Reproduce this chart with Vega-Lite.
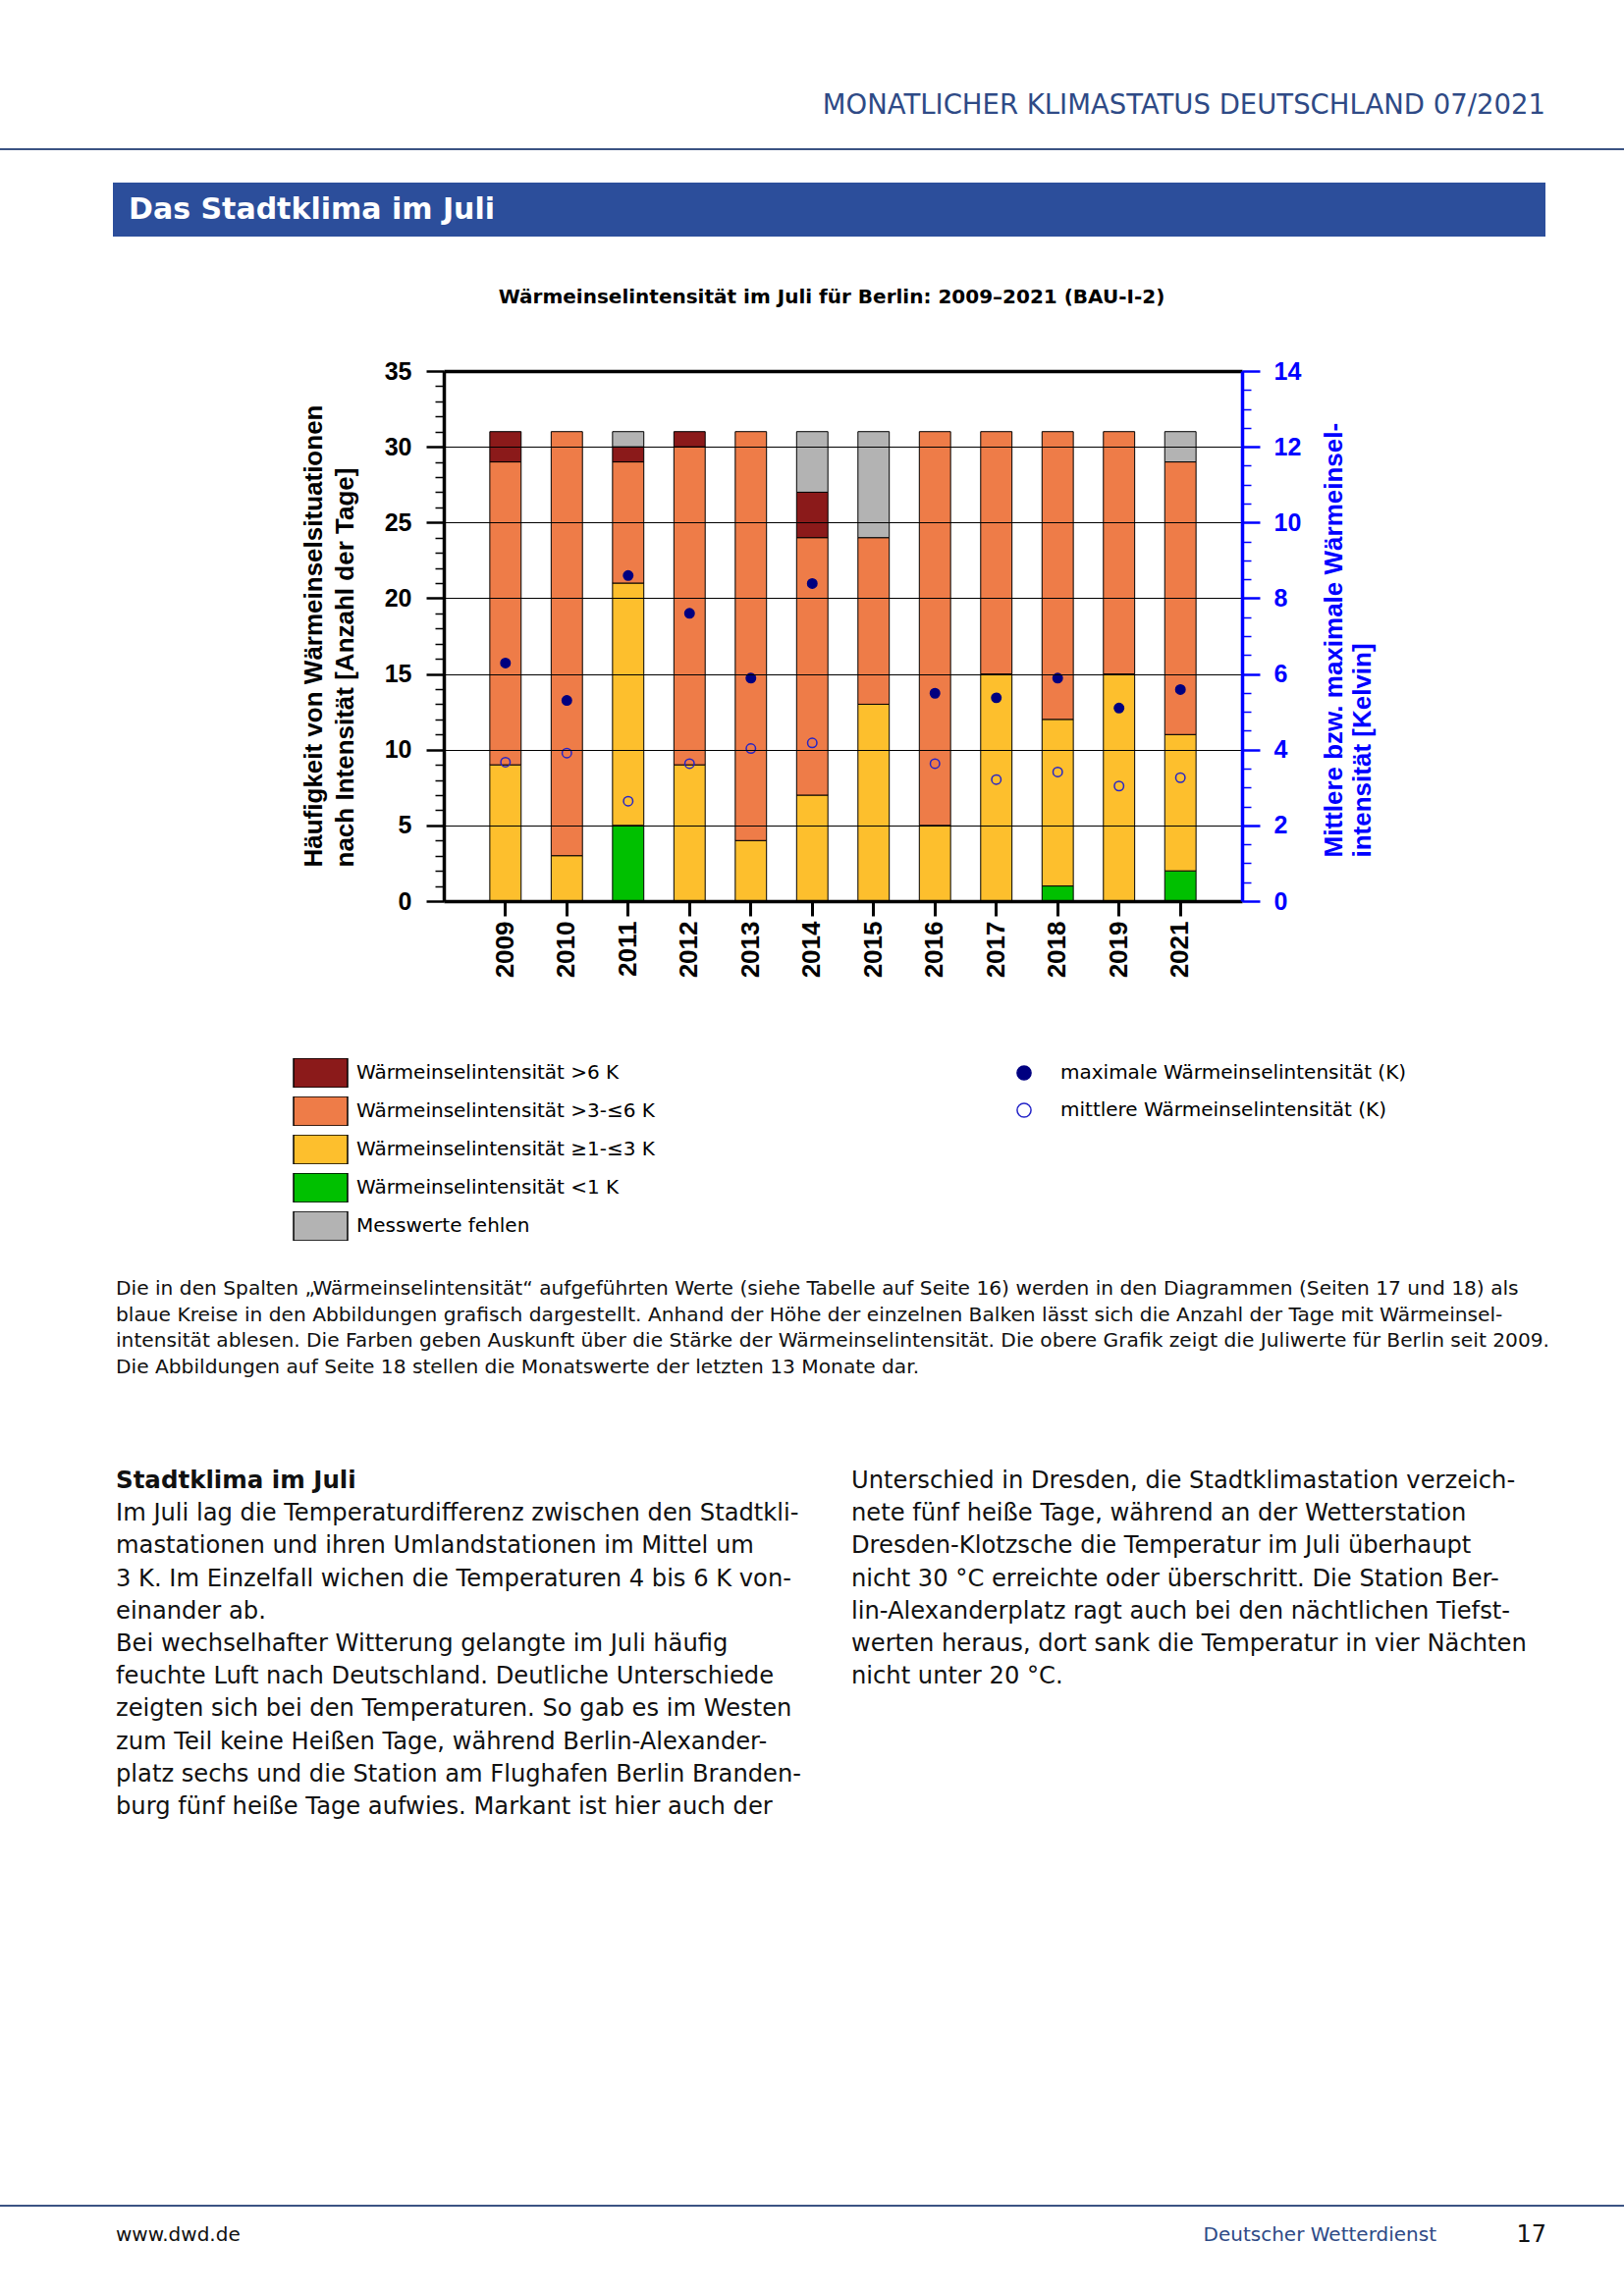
{
  "$schema": "https://vega.github.io/schema/vega-lite/v6.json",
  "padding": 0,
  "background": "#ffffff",
  "spacing": 0,
  "bounds": "flush",
  "config": {"view": {"stroke": null}, "concat": {"spacing": 0}, "font": "DejaVu Sans"},
  "datasets": {
    "bars": [
      {"Jahr": "2009", "Klasse": "Wärmeinselintensität ≥1-≤3 K", "Stufe": 2, "Tage": 9},
      {"Jahr": "2009", "Klasse": "Wärmeinselintensität >3-≤6 K", "Stufe": 3, "Tage": 20},
      {"Jahr": "2009", "Klasse": "Wärmeinselintensität >6 K", "Stufe": 4, "Tage": 2},
      {"Jahr": "2010", "Klasse": "Wärmeinselintensität ≥1-≤3 K", "Stufe": 2, "Tage": 3},
      {"Jahr": "2010", "Klasse": "Wärmeinselintensität >3-≤6 K", "Stufe": 3, "Tage": 28},
      {"Jahr": "2011", "Klasse": "Wärmeinselintensität <1 K", "Stufe": 1, "Tage": 5},
      {"Jahr": "2011", "Klasse": "Wärmeinselintensität ≥1-≤3 K", "Stufe": 2, "Tage": 16},
      {"Jahr": "2011", "Klasse": "Wärmeinselintensität >3-≤6 K", "Stufe": 3, "Tage": 8},
      {"Jahr": "2011", "Klasse": "Wärmeinselintensität >6 K", "Stufe": 4, "Tage": 1},
      {"Jahr": "2011", "Klasse": "Messwerte fehlen", "Stufe": 5, "Tage": 1},
      {"Jahr": "2012", "Klasse": "Wärmeinselintensität ≥1-≤3 K", "Stufe": 2, "Tage": 9},
      {"Jahr": "2012", "Klasse": "Wärmeinselintensität >3-≤6 K", "Stufe": 3, "Tage": 21},
      {"Jahr": "2012", "Klasse": "Wärmeinselintensität >6 K", "Stufe": 4, "Tage": 1},
      {"Jahr": "2013", "Klasse": "Wärmeinselintensität ≥1-≤3 K", "Stufe": 2, "Tage": 4},
      {"Jahr": "2013", "Klasse": "Wärmeinselintensität >3-≤6 K", "Stufe": 3, "Tage": 27},
      {"Jahr": "2014", "Klasse": "Wärmeinselintensität ≥1-≤3 K", "Stufe": 2, "Tage": 7},
      {"Jahr": "2014", "Klasse": "Wärmeinselintensität >3-≤6 K", "Stufe": 3, "Tage": 17},
      {"Jahr": "2014", "Klasse": "Wärmeinselintensität >6 K", "Stufe": 4, "Tage": 3},
      {"Jahr": "2014", "Klasse": "Messwerte fehlen", "Stufe": 5, "Tage": 4},
      {"Jahr": "2015", "Klasse": "Wärmeinselintensität ≥1-≤3 K", "Stufe": 2, "Tage": 13},
      {"Jahr": "2015", "Klasse": "Wärmeinselintensität >3-≤6 K", "Stufe": 3, "Tage": 11},
      {"Jahr": "2015", "Klasse": "Messwerte fehlen", "Stufe": 5, "Tage": 7},
      {"Jahr": "2016", "Klasse": "Wärmeinselintensität ≥1-≤3 K", "Stufe": 2, "Tage": 5},
      {"Jahr": "2016", "Klasse": "Wärmeinselintensität >3-≤6 K", "Stufe": 3, "Tage": 26},
      {"Jahr": "2017", "Klasse": "Wärmeinselintensität ≥1-≤3 K", "Stufe": 2, "Tage": 15},
      {"Jahr": "2017", "Klasse": "Wärmeinselintensität >3-≤6 K", "Stufe": 3, "Tage": 16},
      {"Jahr": "2018", "Klasse": "Wärmeinselintensität <1 K", "Stufe": 1, "Tage": 1},
      {"Jahr": "2018", "Klasse": "Wärmeinselintensität ≥1-≤3 K", "Stufe": 2, "Tage": 11},
      {"Jahr": "2018", "Klasse": "Wärmeinselintensität >3-≤6 K", "Stufe": 3, "Tage": 19},
      {"Jahr": "2019", "Klasse": "Wärmeinselintensität ≥1-≤3 K", "Stufe": 2, "Tage": 15},
      {"Jahr": "2019", "Klasse": "Wärmeinselintensität >3-≤6 K", "Stufe": 3, "Tage": 16},
      {"Jahr": "2021", "Klasse": "Wärmeinselintensität <1 K", "Stufe": 1, "Tage": 2},
      {"Jahr": "2021", "Klasse": "Wärmeinselintensität ≥1-≤3 K", "Stufe": 2, "Tage": 9},
      {"Jahr": "2021", "Klasse": "Wärmeinselintensität >3-≤6 K", "Stufe": 3, "Tage": 18},
      {"Jahr": "2021", "Klasse": "Messwerte fehlen", "Stufe": 5, "Tage": 2}
    ],
    "dots": [
      {"Jahr": "2009", "Reihe": "maximale Wärmeinselintensität (K)", "Kelvin": 6.29},
      {"Jahr": "2009", "Reihe": "mittlere Wärmeinselintensität (K)", "Kelvin": 3.67},
      {"Jahr": "2010", "Reihe": "maximale Wärmeinselintensität (K)", "Kelvin": 5.30},
      {"Jahr": "2010", "Reihe": "mittlere Wärmeinselintensität (K)", "Kelvin": 3.91},
      {"Jahr": "2011", "Reihe": "maximale Wärmeinselintensität (K)", "Kelvin": 8.60},
      {"Jahr": "2011", "Reihe": "mittlere Wärmeinselintensität (K)", "Kelvin": 2.64},
      {"Jahr": "2012", "Reihe": "maximale Wärmeinselintensität (K)", "Kelvin": 7.60},
      {"Jahr": "2012", "Reihe": "mittlere Wärmeinselintensität (K)", "Kelvin": 3.63},
      {"Jahr": "2013", "Reihe": "maximale Wärmeinselintensität (K)", "Kelvin": 5.89},
      {"Jahr": "2013", "Reihe": "mittlere Wärmeinselintensität (K)", "Kelvin": 4.03},
      {"Jahr": "2014", "Reihe": "maximale Wärmeinselintensität (K)", "Kelvin": 8.39},
      {"Jahr": "2014", "Reihe": "mittlere Wärmeinselintensität (K)", "Kelvin": 4.18},
      {"Jahr": "2016", "Reihe": "maximale Wärmeinselintensität (K)", "Kelvin": 5.49},
      {"Jahr": "2016", "Reihe": "mittlere Wärmeinselintensität (K)", "Kelvin": 3.63},
      {"Jahr": "2017", "Reihe": "maximale Wärmeinselintensität (K)", "Kelvin": 5.37},
      {"Jahr": "2017", "Reihe": "mittlere Wärmeinselintensität (K)", "Kelvin": 3.21},
      {"Jahr": "2018", "Reihe": "maximale Wärmeinselintensität (K)", "Kelvin": 5.89},
      {"Jahr": "2018", "Reihe": "mittlere Wärmeinselintensität (K)", "Kelvin": 3.41},
      {"Jahr": "2019", "Reihe": "maximale Wärmeinselintensität (K)", "Kelvin": 5.10},
      {"Jahr": "2019", "Reihe": "mittlere Wärmeinselintensität (K)", "Kelvin": 3.04},
      {"Jahr": "2021", "Reihe": "maximale Wärmeinselintensität (K)", "Kelvin": 5.59},
      {"Jahr": "2021", "Reihe": "mittlere Wärmeinselintensität (K)", "Kelvin": 3.26}
    ],
    "caption": [
      {"col": "links", "z": 0, "t": "Die in den Spalten „Wärmeinselintensität“ aufgeführten Werte (siehe Tabelle auf Seite 16) werden in den Diagrammen (Seiten 17 und 18) als"},
      {"col": "links", "z": 1, "t": "blaue Kreise in den Abbildungen grafisch dargestellt. Anhand der Höhe der einzelnen Balken lässt sich die Anzahl der Tage mit Wärmeinsel-"},
      {"col": "links", "z": 2, "t": "intensität ablesen. Die Farben geben Auskunft über die Stärke der Wärmeinselintensität. Die obere Grafik zeigt die Juliwerte für Berlin seit 2009."},
      {"col": "links", "z": 3, "t": "Die Abbildungen auf Seite 18 stellen die Monatswerte der letzten 13 Monate dar."}
    ],
    "heading": [
      {"col": "links", "z": 0, "t": "Stadtklima im Juli"}
    ],
    "body": [
      {"col": "links", "z": 1, "t": "Im Juli lag die Temperaturdifferenz zwischen den Stadtkli-"},
      {"col": "links", "z": 2, "t": "mastationen und ihren Umlandstationen im Mittel um"},
      {"col": "links", "z": 3, "t": "3 K. Im Einzelfall wichen die Temperaturen 4 bis 6 K von-"},
      {"col": "links", "z": 4, "t": "einander ab."},
      {"col": "links", "z": 5, "t": "Bei wechselhafter Witterung gelangte im Juli häufig"},
      {"col": "links", "z": 6, "t": "feuchte Luft nach Deutschland. Deutliche Unterschiede"},
      {"col": "links", "z": 7, "t": "zeigten sich bei den Temperaturen. So gab es im Westen"},
      {"col": "links", "z": 8, "t": "zum Teil keine Heißen Tage, während Berlin-Alexander-"},
      {"col": "links", "z": 9, "t": "platz sechs und die Station am Flughafen Berlin Branden-"},
      {"col": "links", "z": 10, "t": "burg fünf heiße Tage aufwies. Markant ist hier auch der"},
      {"col": "rechts", "z": 0, "t": "Unterschied in Dresden, die Stadtklimastation verzeich-"},
      {"col": "rechts", "z": 1, "t": "nete fünf heiße Tage, während an der Wetterstation"},
      {"col": "rechts", "z": 2, "t": "Dresden-Klotzsche die Temperatur im Juli überhaupt"},
      {"col": "rechts", "z": 3, "t": "nicht 30 °C erreichte oder überschritt. Die Station Ber-"},
      {"col": "rechts", "z": 4, "t": "lin-Alexanderplatz ragt auch bei den nächtlichen Tiefst-"},
      {"col": "rechts", "z": 5, "t": "werten heraus, dort sank die Temperatur in vier Nächten"},
      {"col": "rechts", "z": 6, "t": "nicht unter 20 °C."}
    ]
  },
  "vconcat": [
    {"width": 1654, "height": 107, "data": {"values": []}, "mark": "point"},
    {
      "width": 1654, "height": 2,
      "data": {"values": [{"k": "kopf", "t": "MONATLICHER KLIMASTATUS DEUTSCHLAND  07/2021"}]},
      "mark": {"type": "text", "align": "right", "baseline": "middle", "font": "DejaVu Sans", "fontSize": 27.5, "color": "#2e4a86"},
      "encoding": {
        "x": {"field": "k", "type": "nominal", "scale": {"range": [1574, 1574]}, "axis": null},
        "text": {"field": "t"}
      }
    },
    {"width": 1654, "height": 42, "data": {"values": []}, "mark": "point"},
    {"width": 1654, "height": 2, "data": {"values": []}, "mark": "point", "view": {"fill": "#3b5383", "stroke": null}},
    {"width": 1654, "height": 33, "data": {"values": []}, "mark": "point"},
    {
      "width": 1654, "height": 55,
      "layer": [
        {
          "data": {"values": [{"k": "banner"}]},
          "mark": {"type": "rect", "color": "#2c4e9b"},
          "encoding": {
            "x": {"field": "k", "type": "nominal", "scale": {"type": "band", "range": [115, 1574], "paddingInner": 0, "paddingOuter": 0}, "axis": null}
          }
        },
        {
          "data": {"values": [{"k": "banner", "t": "Das Stadtklima im Juli"}]},
          "mark": {"type": "text", "align": "left", "baseline": "middle", "font": "DejaVu Sans", "fontSize": 30, "fontWeight": "bold", "color": "#ffffff"},
          "encoding": {
            "x": {"field": "k", "type": "nominal", "scale": {"type": "point", "range": [131, 131]}, "axis": null},
            "text": {"field": "t"}
          }
        }
      ],
      "resolve": {"scale": {"x": "independent"}, "axis": {"x": "independent"}}
    },
    {"width": 1654, "height": 137, "data": {"values": []}, "mark": "point"},
    {
      "width": 1654, "height": 540,
      "title": {"text": "Wärmeinselintensität im Juli für Berlin: 2009–2021 (BAU-I-2)", "font": "DejaVu Sans", "fontSize": 20, "fontWeight": "bold", "color": "#000000", "anchor": "middle", "frame": "group", "dx": 20, "offset": 53},
      "layer": [
        {
          "data": {"name": "bars"},
          "mark": {"type": "bar", "stroke": "#000000", "strokeWidth": 1},
          "encoding": {
            "x": {
              "field": "Jahr", "type": "ordinal",
              "scale": {"range": [452, 1265], "paddingInner": 0.49, "paddingOuter": 0.75},
              "axis": {
                "orient": "bottom",
                "title": null, "labelAngle": -90, "labelFont": "Liberation Sans", "labelFontSize": 26, "labelFontWeight": "bold", "labelColor": "#000000",
                "tickSize": 15, "tickWidth": 3, "tickColor": "#000000", "domainColor": "#000000", "domainWidth": 3.5, "labelPadding": 5, "zindex": 1
              }
            },
            "y": {
              "field": "Tage", "type": "quantitative", "stack": "zero",
              "scale": {"domain": [0, 35], "nice": false},
              "axis": {
                "orient": "left", "offset": -452,
                "values": [0,1,2,3,4,5,6,7,8,9,10,11,12,13,14,15,16,17,18,19,20,21,22,23,24,25,26,27,28,29,30,31,32,33,34,35],
                "labelExpr": "datum.value % 5 === 0 ? format(datum.value, 'd') : ''",
                "labelOverlap": false,
                "tickSize": {"condition": {"test": "datum.value % 5 === 0", "value": 18}, "value": 9},
                "tickWidth": {"condition": {"test": "datum.value % 5 === 0", "value": 2.5}, "value": 1.5},
                "tickColor": "#000000",
                "grid": true, "gridColor": "#000000", "gridWidth": 1.2,
                "gridOpacity": {"condition": {"test": "datum.value % 5 === 0", "value": 1}, "value": 0},
                "domainColor": "#000000", "domainWidth": 3.5,
                "labelFont": "Liberation Sans", "labelFontSize": 25, "labelFontWeight": "bold", "labelColor": "#000000", "labelPadding": 15,
                "title": ["Häufigkeit von Wärmeinselsituationen", "nach Intensität [Anzahl der Tage]"],
                "titleFont": "Liberation Sans", "titleFontSize": 26, "titleFontWeight": "bold", "titleColor": "#000000",
                "titleAngle": 270, "titleAlign": "left", "titleBaseline": "alphabetic", "titleX": -125, "titleY": 505, "titleLineHeight": 32,
                "zindex": 1
              }
            },
            "color": {
              "field": "Klasse", "type": "nominal",
              "scale": {
                "domain": ["Wärmeinselintensität >6 K", "Wärmeinselintensität >3-≤6 K", "Wärmeinselintensität ≥1-≤3 K", "Wärmeinselintensität <1 K", "Messwerte fehlen"],
                "range": ["#8b1a1a", "#ee7c48", "#fdbf2d", "#00c000", "#b3b3b3"]
              },
              "legend": {
                "orient": "none", "legendX": 298, "legendY": 1078, "title": null, "padding": 0,
                "symbolType": "M-1,-0.545L1,-0.545L1,0.545L-1,0.545Z", "symbolSize": 3025,
                "symbolStrokeColor": "#000000", "symbolStrokeWidth": 1.5, "symbolOpacity": 1,
                "labelFont": "DejaVu Sans", "labelFontSize": 20, "labelColor": "#000000", "labelOffset": 8, "labelLimit": 0,
                "rowPadding": 9, "clipHeight": 30
              }
            },
            "order": {"field": "Stufe", "type": "quantitative"}
          }
        },
        {
          "data": {"name": "dots"},
          "mark": {"type": "point", "shape": "circle", "size": 90, "strokeWidth": 1.5, "filled": true, "opacity": 1},
          "encoding": {
            "x": {
              "field": "Jahr", "type": "ordinal",
              "axis": {"orient": "top", "title": null, "labels": false, "ticks": false, "domainColor": "#000000", "domainWidth": 3.5, "zindex": 1}
            },
            "y": {
              "field": "Kelvin", "type": "quantitative",
              "scale": {"domain": [0, 14], "nice": false},
              "axis": {
                "orient": "right", "offset": -389,
                "values": [0,0.5,1,1.5,2,2.5,3,3.5,4,4.5,5,5.5,6,6.5,7,7.5,8,8.5,9,9.5,10,10.5,11,11.5,12,12.5,13,13.5,14],
                "labelExpr": "datum.value % 2 === 0 ? format(datum.value, 'd') : ''",
                "labelOverlap": false,
                "tickSize": {"condition": {"test": "datum.value % 2 === 0", "value": 18}, "value": 9},
                "tickWidth": {"condition": {"test": "datum.value % 2 === 0", "value": 2.5}, "value": 1.5},
                "tickColor": "#0000ff",
                "grid": false,
                "domainColor": "#0000ff", "domainWidth": 3.5,
                "labelFont": "Liberation Sans", "labelFontSize": 25, "labelFontWeight": "bold", "labelColor": "#0000ff", "labelPadding": 14,
                "title": ["Mittlere bzw. maximale Wärmeinsel-", "intensität [Kelvin]"],
                "titleFont": "Liberation Sans", "titleFontSize": 26, "titleFontWeight": "bold", "titleColor": "#0000ff",
                "titleAngle": 270, "titleAlign": "left", "titleBaseline": "alphabetic", "titleX": 101, "titleY": 495, "titleLineHeight": 29,
                "zindex": 1
              }
            },
            "fill": {
              "field": "Reihe", "type": "nominal",
              "scale": {"domain": ["maximale Wärmeinselintensität (K)", "mittlere Wärmeinselintensität (K)"], "range": ["#000080", "transparent"]},
              "legend": {
                "orient": "none", "legendX": 1033, "legendY": 1083, "title": null, "padding": 0,
                "symbolSize": 200, "symbolStrokeWidth": 1.5,
                "labelFont": "DejaVu Sans", "labelFontSize": 20, "labelColor": "#000000", "labelOffset": 27, "labelLimit": 0, "rowPadding": 16
              }
            },
            "stroke": {
              "field": "Reihe", "type": "nominal",
              "scale": {"domain": ["maximale Wärmeinselintensität (K)", "mittlere Wärmeinselintensität (K)"], "range": ["#000080", "#2424c8"]},
              "legend": {
                "orient": "none", "legendX": 1033, "legendY": 1083, "title": null, "padding": 0,
                "symbolSize": 200, "symbolStrokeWidth": 1.5,
                "labelFont": "DejaVu Sans", "labelFontSize": 20, "labelColor": "#000000", "labelOffset": 27, "labelLimit": 0, "rowPadding": 16
              }
            }
          }
        }
      ],
      "resolve": {"scale": {"y": "independent"}, "axis": {"y": "independent"}}
    },
    {"width": 1654, "height": 395, "data": {"values": []}, "mark": "point"},
    {
      "width": 1654, "height": 80,
      "data": {"name": "caption"},
      "mark": {"type": "text", "align": "left", "baseline": "middle", "font": "DejaVu Sans", "fontSize": 20.2, "color": "#111111"},
      "encoding": {
        "x": {"field": "col", "type": "nominal", "scale": {"range": [118, 118]}, "axis": null},
        "y": {"field": "z", "type": "quantitative", "scale": {"domain": [0, 3], "reverse": true, "nice": false, "zero": false}, "axis": null},
        "text": {"field": "t"}
      }
    },
    {"width": 1654, "height": 116, "data": {"values": []}, "mark": "point"},
    {
      "width": 1654, "height": 332,
      "layer": [
        {
          "data": {"name": "heading"},
          "mark": {"type": "text", "align": "left", "baseline": "middle", "font": "DejaVu Sans", "fontSize": 24.5, "fontWeight": "bold", "color": "#111111"},
          "encoding": {
            "x": {"field": "col", "type": "nominal", "scale": {"domain": ["links", "rechts"], "range": [118, 867], "padding": 0}, "axis": null},
            "y": {"field": "z", "type": "quantitative", "scale": {"domain": [0, 10], "reverse": true, "nice": false, "zero": false}, "axis": null},
            "text": {"field": "t"}
          }
        },
        {
          "data": {"name": "body"},
          "mark": {"type": "text", "align": "left", "baseline": "middle", "font": "DejaVu Sans", "fontSize": 24.2, "color": "#111111"},
          "encoding": {
            "x": {"field": "col", "type": "nominal", "scale": {"domain": ["links", "rechts"], "range": [118, 867], "padding": 0}, "axis": null},
            "y": {"field": "z", "type": "quantitative", "scale": {"domain": [0, 10], "reverse": true, "nice": false, "zero": false}, "axis": null},
            "text": {"field": "t"}
          }
        }
      ]
    },
    {"width": 1654, "height": 405, "data": {"values": []}, "mark": "point"},
    {"width": 1654, "height": 2, "data": {"values": []}, "mark": "point", "view": {"fill": "#3b5383", "stroke": null}},
    {"width": 1654, "height": 28, "data": {"values": []}, "mark": "point"},
    {
      "width": 1654, "height": 2,
      "layer": [
        {
          "data": {"values": [{"k": "web", "t": "www.dwd.de"}]},
          "mark": {"type": "text", "align": "left", "baseline": "middle", "font": "DejaVu Sans", "fontSize": 20, "color": "#111111"},
          "encoding": {"x": {"field": "k", "type": "nominal", "scale": {"range": [118, 118]}, "axis": null}, "text": {"field": "t"}}
        },
        {
          "data": {"values": [{"k": "dwd", "t": "Deutscher Wetterdienst"}]},
          "mark": {"type": "text", "align": "right", "baseline": "middle", "font": "DejaVu Sans", "fontSize": 20, "color": "#2e4a86"},
          "encoding": {"x": {"field": "k", "type": "nominal", "scale": {"range": [1463, 1463]}, "axis": null}, "text": {"field": "t"}}
        },
        {
          "data": {"values": [{"k": "seite", "t": "17"}]},
          "mark": {"type": "text", "align": "right", "baseline": "middle", "font": "DejaVu Sans", "fontSize": 24, "color": "#111111"},
          "encoding": {"x": {"field": "k", "type": "nominal", "scale": {"range": [1575, 1575]}, "axis": null}, "text": {"field": "t"}}
        }
      ],
      "resolve": {"scale": {"x": "independent"}}
    },
    {"width": 1654, "height": 61, "data": {"values": []}, "mark": "point"}
  ]
}
